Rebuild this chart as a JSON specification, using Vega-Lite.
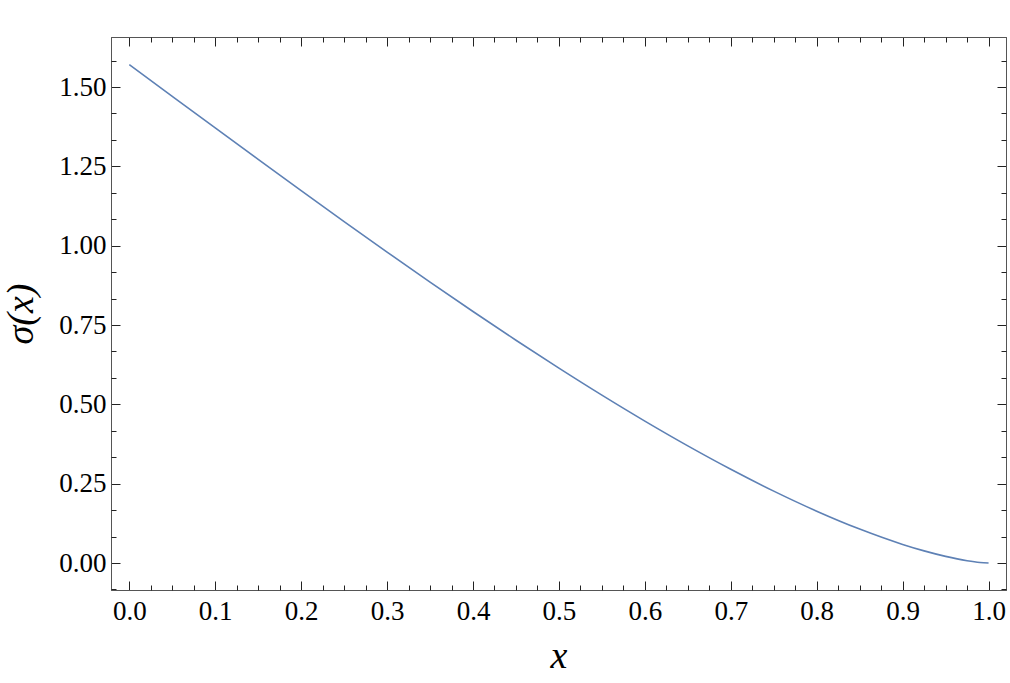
{
  "$schema": "https://vega.github.io/schema/vega-lite/v6.json",
  "width": 895,
  "height": 553,
  "autosize": "none",
  "padding": {"left": 111, "top": 37, "right": 4, "bottom": 93},
  "background": "white",
  "data": {"values": [
    {"x": 0, "s": 1.5708},
    {"x": 0.05, "s": 1.47084},
    {"x": 0.1, "s": 1.37113},
    {"x": 0.15, "s": 1.27193},
    {"x": 0.2, "s": 1.17348},
    {"x": 0.25, "s": 1.07605},
    {"x": 0.3, "s": 0.97992},
    {"x": 0.35, "s": 0.88536},
    {"x": 0.4, "s": 0.79267},
    {"x": 0.45, "s": 0.70217},
    {"x": 0.5, "s": 0.61418},
    {"x": 0.55, "s": 0.52909},
    {"x": 0.6, "s": 0.4473},
    {"x": 0.65, "s": 0.36926},
    {"x": 0.7, "s": 0.2955},
    {"x": 0.75, "s": 0.22666},
    {"x": 0.8, "s": 0.1635},
    {"x": 0.85, "s": 0.10705},
    {"x": 0.9, "s": 0.05873},
    {"x": 0.925, "s": 0.03829},
    {"x": 0.95, "s": 0.02092},
    {"x": 0.975, "s": 0.00743},
    {"x": 0.99, "s": 0.00188},
    {"x": 1.0, "s": 0}
  ]},
  "config": {
    "view": {"stroke": "#555555", "strokeWidth": 1},
    "axis": {
      "labelFont": "Liberation Serif",
      "labelFontSize": 27,
      "labelColor": "#000000",
      "titleFont": "Liberation Serif",
      "titleFontStyle": "italic",
      "titleFontWeight": "normal",
      "titleFontSize": 38,
      "titleColor": "#000000",
      "tickColor": "#222222",
      "tickWidth": 1,
      "domainColor": "#555555",
      "grid": false
    }
  },
  "resolve": {"axis": {"x": "independent", "y": "independent"}},
  "layer": [
    {
      "mark": {"type": "line", "color": "#5E81B5", "strokeWidth": 1.6, "interpolate": "monotone"},
      "encoding": {
        "x": {"field": "x", "type": "quantitative",
          "scale": {"domain": [-0.0213, 1.0203], "nice": false, "zero": false},
          "axis": {"orient": "bottom", "title": "x", "values": [0, 0.1, 0.2, 0.3, 0.4, 0.5, 0.6, 0.7, 0.8, 0.9, 1.0], "format": ".1f", "tickSize": -9, "labelPadding": 17, "titlePadding": 13, "labelFlush": false, "labelOverlap": false}},
        "y": {"field": "s", "type": "quantitative",
          "scale": {"domain": [-0.085, 1.6577], "nice": false, "zero": false},
          "axis": {"orient": "left", "title": "σ(x)", "values": [0, 0.25, 0.5, 0.75, 1.0, 1.25, 1.5], "format": ".2f", "tickSize": -9, "labelPadding": 14, "titlePadding": 18, "labelFlush": false, "labelOverlap": false}}
      }
    },
    {
      "mark": {"type": "line", "strokeOpacity": 0},
      "encoding": {
        "x": {"field": "x", "type": "quantitative",
          "axis": {"orient": "bottom", "title": null, "labels": false, "domain": false, "tickSize": -5, "values": [0.025, 0.05, 0.075, 0.125, 0.15, 0.175, 0.225, 0.25, 0.275, 0.325, 0.35, 0.375, 0.425, 0.45, 0.475, 0.525, 0.55, 0.575, 0.625, 0.65, 0.675, 0.725, 0.75, 0.775, 0.825, 0.85, 0.875, 0.925, 0.95, 0.975]}},
        "y": {"field": "s", "type": "quantitative",
          "axis": {"orient": "left", "title": null, "labels": false, "domain": false, "tickSize": -5, "values": [-0.08333, 0.08333, 0.16667, 0.33333, 0.41667, 0.58333, 0.66667, 0.83333, 0.91667, 1.08333, 1.16667, 1.33333, 1.41667, 1.58333]}}
      }
    },
    {
      "mark": {"type": "line", "strokeOpacity": 0},
      "encoding": {
        "x": {"field": "x", "type": "quantitative",
          "axis": {"orient": "top", "title": null, "labels": false, "tickSize": -9, "values": [0, 0.1, 0.2, 0.3, 0.4, 0.5, 0.6, 0.7, 0.8, 0.9, 1.0]}},
        "y": {"field": "s", "type": "quantitative",
          "axis": {"orient": "right", "title": null, "labels": false, "tickSize": -9, "values": [0, 0.25, 0.5, 0.75, 1.0, 1.25, 1.5]}}
      }
    },
    {
      "mark": {"type": "line", "strokeOpacity": 0},
      "encoding": {
        "x": {"field": "x", "type": "quantitative",
          "axis": {"orient": "top", "title": null, "labels": false, "domain": false, "tickSize": -5, "values": [0.025, 0.05, 0.075, 0.125, 0.15, 0.175, 0.225, 0.25, 0.275, 0.325, 0.35, 0.375, 0.425, 0.45, 0.475, 0.525, 0.55, 0.575, 0.625, 0.65, 0.675, 0.725, 0.75, 0.775, 0.825, 0.85, 0.875, 0.925, 0.95, 0.975]}},
        "y": {"field": "s", "type": "quantitative",
          "axis": {"orient": "right", "title": null, "labels": false, "domain": false, "tickSize": -5, "values": [-0.08333, 0.08333, 0.16667, 0.33333, 0.41667, 0.58333, 0.66667, 0.83333, 0.91667, 1.08333, 1.16667, 1.33333, 1.41667, 1.58333]}}
      }
    }
  ]
}
